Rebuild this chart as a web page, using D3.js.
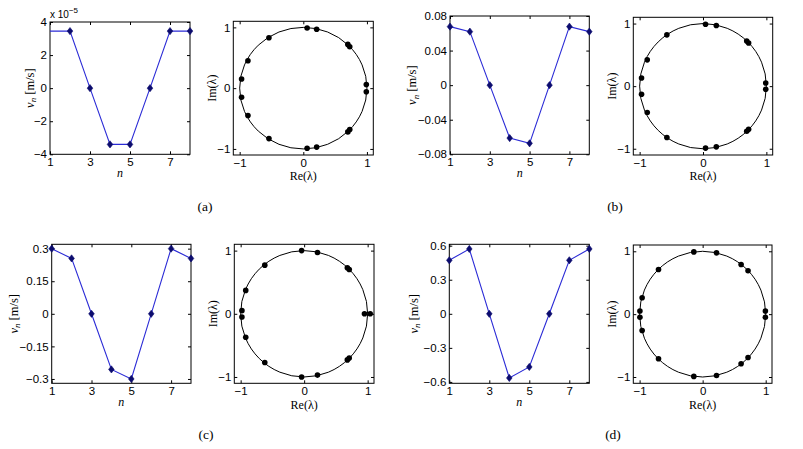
<!DOCTYPE html>
<html><head><meta charset="utf-8">
<script src="https://cdn.jsdelivr.net/npm/d3@7"></script>
<style>
body{margin:0;background:#fff;}
svg{display:block;}
.tick text{font-family:"Liberation Sans",Arial,sans-serif;font-size:11.5px;fill:#000;}
.serif{font-family:"Liberation Serif","Times New Roman",serif;fill:#000;}
</style></head><body>
<svg id="chart" width="803" height="449"></svg>
<script>
// ---------------- data ----------------
const nValues = [1, 2, 3, 4, 5, 6, 7, 8];
const nTicks = [1, 3, 5, 7];

const velA = [3.45e-5, 3.45e-5, 0, -3.4e-5, -3.4e-5, 0, 3.45e-5, 3.45e-5];
const velB = [0.0677, 0.0619, 0, -0.0612, -0.0673, 0, 0.0677, 0.0619];
const velC = [0.300, 0.255, 0, -0.256, -0.300, 0, 0.300, 0.255];
const velD = [0.471, 0.571, 0, -0.565, -0.468, 0, 0.471, 0.571];

const velTicksA = [-4e-5, -2e-5, 0, 2e-5, 4e-5];
const velTicksB = [-0.08, -0.04, 0, 0.04, 0.08];
const velTicksC = [-0.3, -0.15, 0, 0.15, 0.3];
const velTicksD = [-0.6, -0.3, 0, 0.3, 0.6];

const velDomainA = [-4e-5, 4e-5];
const velDomainB = [-0.08, 0.08];
const velDomainC = [-0.32, 0.32];
const velDomainD = [-0.612, 0.612];

const reA = [0.06, 0.21, 0.70, 0.73, 0.99, 0.99, 0.73, 0.70, 0.21, 0.06, -0.54, -0.87, -0.97, -0.97, -0.87, -0.54];
const imA = [0.99, 0.97, 0.72, 0.68, 0.06, -0.06, -0.68, -0.72, -0.97, -0.99, -0.83, -0.45, -0.15, 0.15, 0.45, 0.83];
const reB = [0.04, 0.21, 0.69, 0.72, 0.99, 0.99, 0.72, 0.69, 0.21, 0.04, -0.57, -0.88, -0.97, -0.97, -0.88, -0.57];
const imB = [0.99, 0.97, 0.72, 0.69, 0.05, -0.05, -0.69, -0.72, -0.97, -0.99, -0.82, -0.42, -0.13, 0.13, 0.42, 0.82];
const reC = [-0.04, 0.21, 0.68, 0.71, 0.95, 1.04, 0.71, 0.68, 0.21, -0.04, -0.62, -0.92, -0.98, -0.98, -0.92, -0.62];
const imC = [1.0, 0.97, 0.73, 0.70, 0, 0, -0.70, -0.73, -0.97, -1.0, -0.77, -0.37, -0.05, 0.05, 0.37, 0.77];
const reD = [-0.14, 0.22, 0.61, 0.72, 0.995, 0.995, 0.72, 0.61, 0.22, -0.14, -0.70, -0.96, -0.995, -0.995, -0.96, -0.70];
const imD = [0.99, 0.975, 0.79, 0.69, 0.05, -0.05, -0.69, -0.79, -0.975, -0.99, -0.71, -0.26, -0.05, 0.05, 0.26, 0.71];

const eigTicks = [-1, 0, 1];
const eigDomain = [-1.1, 1.1];
const panelLabels = ["(a)", "(b)", "(c)", "(d)"];

// ---------------- layout ----------------
const layout = [
  { line: {x0: 50, x1: 190, y0: 22, y1: 154.3, ylab: 20.7}, circ: {x0: 233.3, x1: 373.3, y0: 21.3, y1: 155}, lab: [205, 206] },
  { line: {x0: 450, x1: 589.3, y0: 16, y1: 154.3, ylab: 38}, circ: {x0: 633.3, x1: 772.7, y0: 17.3, y1: 155}, lab: [615, 206] },
  { line: {x0: 51.7, x1: 191, y0: 244.3, y1: 383.3, ylab: 38.4}, circ: {x0: 234.3, x1: 374, y0: 244.3, y1: 383.3}, lab: [206, 434] },
  { line: {x0: 449.3, x1: 589.3, y0: 244.3, y1: 383.3, ylab: 36}, circ: {x0: 633.3, x1: 772, y0: 245, y1: 383.3}, lab: [613, 434] }
];

const velSeries = [velA, velB, velC, velD];
const velTickSets = [velTicksA, velTicksB, velTicksC, velTicksD];
const velDomains = [velDomainA, velDomainB, velDomainC, velDomainD];
const reSeries = [reA, reB, reC, reD];
const imSeries = [imA, imB, imC, imD];

const svg = d3.select("#chart");
const fmt = d3.format("");
const TICK = 3;

function frame(g, x, y, xt, yt, xf, yf, b) {
  g.append("g").attr("transform", `translate(0,${b.y1})`)
    .call(d3.axisBottom(x).tickValues(xt).tickSizeInner(-TICK).tickSizeOuter(0).tickPadding(4).tickFormat(xf));
  g.append("g").attr("transform", `translate(${b.x0},0)`)
    .call(d3.axisLeft(y).tickValues(yt).tickSizeInner(-TICK).tickSizeOuter(0).tickPadding(3).tickFormat(yf));
  g.append("g").attr("transform", `translate(0,${b.y0})`)
    .call(d3.axisTop(x).tickValues(xt).tickSizeInner(-TICK).tickSizeOuter(0).tickFormat(""));
  g.append("g").attr("transform", `translate(${b.x1},0)`)
    .call(d3.axisRight(y).tickValues(yt).tickSizeInner(-TICK).tickSizeOuter(0).tickFormat(""));
  g.selectAll(".domain").remove();
  g.selectAll(".tick line").attr("stroke", "#000");
  g.append("rect").attr("x", b.x0).attr("y", b.y0).attr("width", b.x1 - b.x0).attr("height", b.y1 - b.y0)
    .attr("fill", "none").attr("stroke", "#000").attr("stroke-width", 1);
}

layout.forEach((L, i) => {
  // ---- line plot ----
  const b = L.line;
  const g = svg.append("g");
  const x = d3.scaleLinear().domain([1, 8]).range([b.x0, b.x1]);
  const y = d3.scaleLinear().domain(velDomains[i]).range([b.y1, b.y0]);
  const yf = i === 0 ? (d => fmt(Math.round(d * 1e5))) : fmt;
  frame(g, x, y, nTicks, velTickSets[i], fmt, yf, b);

  const pts = nValues.map((n, k) => [n, velSeries[i][k]]);
  g.append("path").datum(pts)
    .attr("d", d3.line().x(d => x(d[0])).y(d => y(d[1])))
    .attr("fill", "none").attr("stroke", "#2b2bd6").attr("stroke-width", 1.1);
  g.selectAll(".mk").data(i === 0 ? pts.slice(1) : pts).enter().append("path")
    .attr("transform", d => `translate(${x(d[0])},${y(d[1])})`)
    .attr("d", "M0,-3.6L2.8,0L0,3.6L-2.8,0Z")
    .attr("fill", "#0c0c6e").attr("stroke", "#0c0c6e").attr("stroke-width", 0.6);

  if (i === 0) {
    const t = g.append("text").attr("x", b.x0).attr("y", b.y0 - 4)
      .style("font-family", '"Liberation Sans",Arial,sans-serif').style("font-size", "10px");
    t.append("tspan").text("x 10");
    t.append("tspan").attr("dy", -5).style("font-size", "8px").text("−5");
  }
  const yl = g.append("text").attr("class", "serif")
    .attr("transform", `translate(${b.x0 - b.ylab},${(b.y0 + b.y1) / 2}) rotate(-90)`)
    .attr("dy", "0.35em").attr("text-anchor", "middle").style("font-size", "12.5px");
  yl.append("tspan").style("font-style", "italic").text("v");
  yl.append("tspan").style("font-style", "italic").style("font-size", "9px").attr("dy", 2.5).text("n");
  yl.append("tspan").attr("dy", -2.5).text(" [m/s]");
  g.append("text").attr("class", "serif").attr("x", (b.x0 + b.x1) / 2).attr("y", b.y1 + 18.5)
    .attr("dy", "0.35em").attr("text-anchor", "middle").style("font-style", "italic").style("font-size", "12px").text("n");

  // ---- eigenvalue plot ----
  const c = L.circ;
  const gc = svg.append("g");
  const xr = d3.scaleLinear().domain(eigDomain).range([c.x0, c.x1]);
  const yi = d3.scaleLinear().domain(eigDomain).range([c.y1, c.y0]);
  frame(gc, xr, yi, eigTicks, eigTicks, fmt, fmt, c);
  gc.append("ellipse").attr("cx", xr(0)).attr("cy", yi(0))
    .attr("rx", xr(1) - xr(0)).attr("ry", yi(0) - yi(1))
    .attr("fill", "none").attr("stroke", "#000").attr("stroke-width", 1);
  gc.selectAll(".ev").data(reSeries[i].map((r, k) => [r, imSeries[i][k]])).enter().append("circle")
    .attr("cx", d => xr(d[0])).attr("cy", d => yi(d[1])).attr("r", 2.8).attr("fill", "#000");
  gc.append("text").attr("class", "serif")
    .attr("transform", `translate(${c.x0 - 21.6},${(c.y0 + c.y1) / 2}) rotate(-90)`)
    .attr("dy", "0.35em").attr("text-anchor", "middle").style("font-size", "12px").text("Im(λ)");
  gc.append("text").attr("class", "serif").attr("x", (c.x0 + c.x1) / 2).attr("y", c.y1 + 21)
    .attr("dy", "0.35em").attr("text-anchor", "middle").style("font-size", "12px").text("Re(λ)");

  svg.append("text").attr("class", "serif").attr("x", L.lab[0]).attr("y", L.lab[1])
    .attr("dy", "0.35em").attr("text-anchor", "middle").style("font-size", "13.5px").text(panelLabels[i]);
});
</script>
</body></html>
